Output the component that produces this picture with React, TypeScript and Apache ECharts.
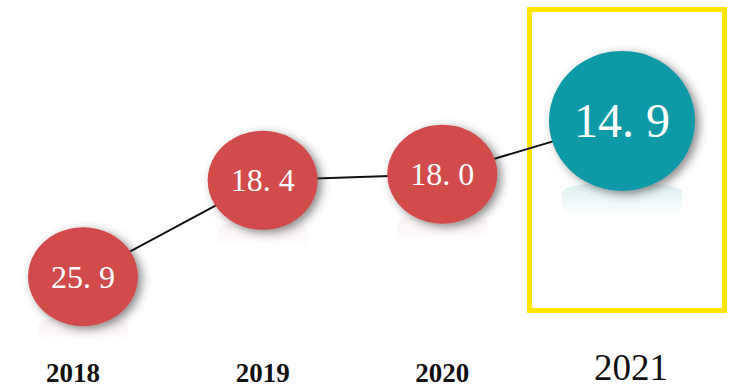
import React, { useEffect, useRef } from "react";
import * as echarts from "echarts";

const years = ["2018", "2019", "2020", "2021"];
const values = [25.9, 18.4, 18.0, 14.9];
const highlightIndex = 3;

const RED = "#D24B4B";
const TEAL = "#0E9AA6";

export default function App() {
  const ref = useRef<HTMLDivElement>(null);
  useEffect(() => {
    document.body.style.margin = "0";
    const chart = echarts.init(ref.current!, null, { renderer: "svg" });
    const fmt = (v: number) => v.toFixed(1).replace(".", ". ");
    const reflect = (rgb: string, a: number) =>
      new echarts.graphic.LinearGradient(0, 0, 0, 1, [
        { offset: 0, color: `rgba(${rgb},${a})` },
        { offset: 1, color: `rgba(${rgb},0)` },
      ]);
    chart.setOption({
      animation: false,
      backgroundColor: "#ffffff",
      grid: { left: 83, right: 108, top: 8.5, bottom: 55 },
      xAxis: {
        type: "category",
        boundaryGap: false,
        data: years,
        axisLine: { show: false },
        axisTick: { show: false },
        splitLine: { show: false },
        axisLabel: {
          verticalAlign: "middle",
          margin: 40,
          formatter: (v: string, i: number) =>
            i === highlightIndex ? `{big|${v}}` : i === 0 ? `{first|${v}}` : `{sm|${v}}`,
          rich: {
            sm: { fontFamily: "Liberation Serif", fontSize: 27, fontWeight: "bold", color: "#111" },
            first: {
              fontFamily: "Liberation Serif",
              fontSize: 27,
              fontWeight: "bold",
              color: "#111",
              padding: [0, 20, 0, 0],
            },
            big: {
              fontFamily: "Liberation Serif",
              fontSize: 37,
              fontWeight: "normal",
              color: "#111",
              padding: [0, 0, 12, 18],
            },
          },
        },
      },
      yAxis: {
        type: "log",
        logBase: 10,
        min: 10,
        max: 31.6227766,
        inverse: true,
        show: false,
        splitLine: { show: false },
      },
      graphic: [
        {
          type: "rect",
          left: 527,
          top: 7,
          shape: { width: 195, height: 301 },
          style: { fill: "none", stroke: "#FFE500", lineWidth: 5 },
          z: 0,
        },
      ],
      series: [
        {
          type: "scatter",
          silent: true,
          z: 0,
          symbol: "roundRect",
          data: values.map((v, i) => {
            const hi = i === highlightIndex;
            return {
              value: v,
              symbolSize: hi ? [120, 34] : [90, 28],
              symbolOffset: hi ? [0, 80] : [0, 56],
              itemStyle: {
                color: hi ? reflect("14,154,166", 0.14) : reflect("210,75,75", 0.07),
              },
            };
          }),
          itemStyle: { opacity: 1 },
        },
        {
          type: "line",
          data: values,
          symbol: "none",
          lineStyle: { color: "#111", width: 2 },
          z: 1,
        },
        {
          type: "scatter",
          z: 3,
          data: values.map((v, i) => {
            const hi = i === highlightIndex;
            return {
              value: v,
              symbolSize: hi ? [146, 140] : [110, 99],
              itemStyle: { color: hi ? TEAL : RED },
              label: { fontSize: hi ? 48 : 32 },
            };
          }),
          itemStyle: {
            opacity: 1,
            shadowBlur: 10,
            shadowColor: "rgba(60,60,60,0.6)",
            shadowOffsetX: 4,
            shadowOffsetY: 3,
          },
          label: {
            show: true,
            position: "inside",
            color: "#ffffff",
            fontFamily: "Liberation Serif",
            formatter: (p: any) => fmt(p.value),
          },
        },
      ],
    });
    return () => chart.dispose();
  }, []);
  return <div ref={ref} style={{ width: 730, height: 388 }} />;
}
